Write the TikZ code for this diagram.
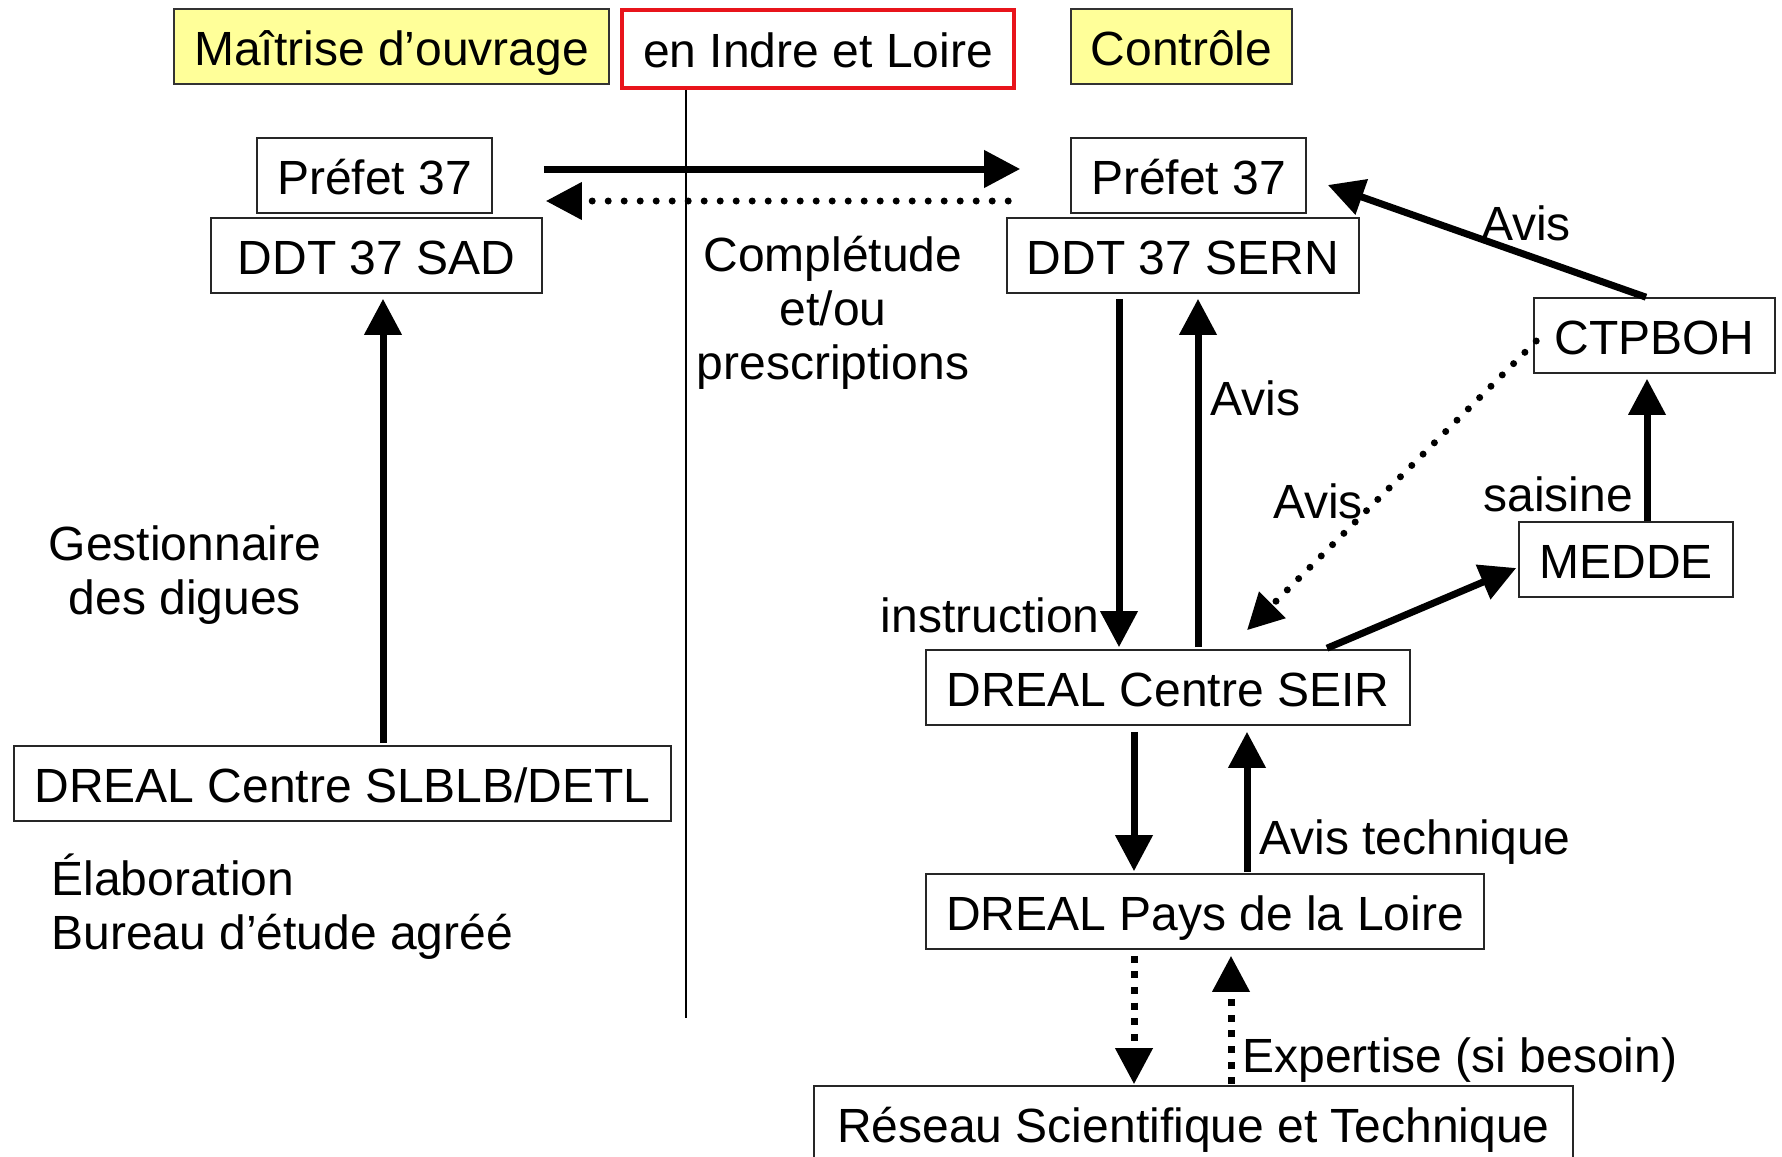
\documentclass[tikz,border=0pt]{standalone}
\usepackage{fontspec}
\setmainfont{Liberation Sans}
\usetikzlibrary{arrows.meta,calc}
\definecolor{hdryellow}{HTML}{FFFF99}
\definecolor{hdrred}{HTML}{E8141B}
\begin{document}
\begin{tikzpicture}[x=0.5pt,y=-0.5pt,
  every node/.style={font=\fontsize{24}{27}\selectfont},
  box/.style={draw=black!85,line width=0.8pt,inner sep=0pt,minimum height=37.5pt,fill=white,text height=18.7pt,text depth=0pt},
  hdr/.style={box,fill=hdryellow,draw=black!80},
  arr/.style={line width=3.5pt,-{Triangle[length=18pt,width=18pt]}},
  dotarr/.style={line width=3.5pt,line cap=round,dash pattern=on 0pt off 8pt,-{Triangle[length=18pt,width=18pt]}},
  dasharr/.style={line width=3.5pt,dash pattern=on 3.5pt off 4.3pt,-{Triangle[length=18pt,width=18pt]}},
  lbl/.style={inner sep=0pt}]
\clip (0,0) rectangle (1782,1156);
\fill[white] (0,0) rectangle (1782,1156);

% headers
\node[hdr,minimum width=217.5pt] (mo) at (391.5,46.5) {Maîtrise d’ouvrage};
\node[box,draw=hdrred,line width=2pt,minimum width=196pt,minimum height=39pt] (il) at (818,49) {en Indre et Loire};
\node[hdr,minimum width=110.5pt] (ctl) at (1181.5,46.5) {Contrôle};

% left column
\node[box,minimum width=117.5pt] (pl) at (374.5,175.5) {Préfet 37};
\node[box,minimum width=165.5pt] (sad) at (376.5,255.5) {DDT 37 SAD\hspace{6pt}};
\node[box,minimum width=328.5pt] (slb) at (342.5,783.5) {DREAL Centre SLBLB/DETL};

% right column
\node[box,minimum width=117.5pt] (pr) at (1188.5,175.5) {Préfet 37};
\node[box,minimum width=176pt] (sern) at (1183,255.5) {DDT 37 SERN};
\node[box,minimum width=120.5pt] (ctp) at (1654.5,335.5) {CTPBOH};
\node[box,minimum width=107pt] (medde) at (1626,559.5) {MEDDE};
\node[box,minimum width=242pt] (seir) at (1168,687.5) {DREAL Centre SEIR};
\node[box,minimum width=279pt] (pdl) at (1205,911.5) {DREAL Pays de la Loire};
\node[box,minimum width=379.5pt] (rst) at (1193.5,1123.5) {Réseau Scientifique et Technique};

% separator line
\draw[line width=0.8pt] ($(il.south)+(-132,0)$) -- ($(il.south)+(-132,928)$);

% connectors
\draw[arr] ($(slb.north)+(40.5,-2)$) -- ($(sad.south)+(6.5,5)$);
\draw[arr] ($(pl.east)+(51,-6.5)$) -- ($(pr.west)+(-50,-6.5)$);
\draw[dotarr] ($(pr.west)+(-62,25.5)$) -- ($(pl.east)+(53,25.5)$);
\draw[arr] ($(ctp.north)+(-8.5,0)$) -- ($(pr.east)+(21,9.5)$);
\draw[arr] ($(sern.south)+(-64,5)$) -- ($(seir.north)+(-49,-2)$);
\draw[arr] ($(seir.north)+(30,-2)$) -- ($(sern.south)+(15,5)$);
\draw[dotarr] ($(ctp.west)+(3,5.5)$) -- ($(seir.north)+(79,-19)$);
\draw[arr] ($(seir.north)+(159,-1)$) -- ($(medde.west)+(-2,8.5)$);
\draw[arr] ($(medde.north)+(21,0)$) -- ($(ctp.south)+(-7.5,5)$);
\draw[arr] ($(seir.south)+(-34,6)$) -- ($(pdl.north)+(-71,-2)$);
\draw[arr] ($(pdl.north)+(42,-1)$) -- ($(seir.south)+(79,6)$);
\draw[dasharr] ($(pdl.south)+(-71,6)$) -- ($(rst.north)+(-59.5,-1)$);
\draw[dasharr] ($(rst.north)+(37.5,-1)$) -- ($(pdl.south)+(26,6)$);

% labels
\node[lbl,align=center] (gest) at (185,575) {Gestionnaire\\des digues};
\node[lbl,align=left,anchor=west] (elab) at (51,906.5) {Élaboration\\Bureau d’étude agréé};
\node[lbl,align=center] (compl) at (833,313) {Complétude\\et/ou\\prescriptions};
\node[lbl] (avis1) at (1526,223) {Avis};
\node[lbl,anchor=west] (avis2) at (1210,398) {Avis};
\node[lbl,anchor=east] (instr) at (1100,615) {instruction};
\node[lbl] (avis3) at (1318,501) {Avis};
\node[lbl] (sais) at (1558,494) {saisine};
\node[lbl,anchor=west] (avtech) at (1259,842) {Avis technique};
\node[lbl,anchor=west] (expert) at (1242,1060) {Expertise (si besoin)};
\end{tikzpicture}
\end{document}
